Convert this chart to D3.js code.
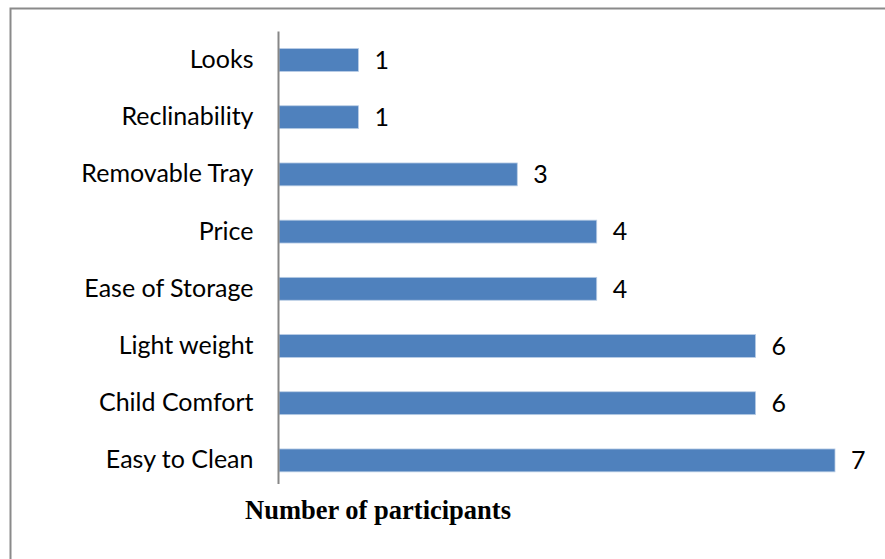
<!DOCTYPE html>
<html>
<head>
<meta charset="utf-8">
<script src="https://cdn.jsdelivr.net/npm/d3@7"></script>
<style>
  html, body { margin: 0; padding: 0; background: #fff; }
  svg { display: block; }
</style>
</head>
<body>
<svg id="chart" width="885" height="559"></svg>
<script>
// Reasons given for choosing a stroller, with participant counts
const categories = ["Looks", "Reclinability", "Removable Tray", "Price",
                    "Ease of Storage", "Light weight", "Child Comfort", "Easy to Clean"];
const participants = [1, 1, 3, 4, 4, 6, 6, 7];
const axisTitle = "Number of participants";

const svg = d3.select("#chart");

// Chart frame (continues past the right and bottom edges of the page)
svg.append("rect")
  .attr("x", 10.5).attr("y", 8.5)
  .attr("width", 900).attr("height", 600)
  .attr("fill", "#fff")
  .attr("stroke", "#8a8a8a")
  .attr("stroke-width", 2);

const x = d3.scaleLinear().domain([0, 7]).range([279, 835]);
const y = d3.scaleBand().domain(categories).range([31.4, 489]).paddingInner(0.6).paddingOuter(0.3);

const labelFont = "Lato, 'Open Sans', sans-serif";

// Bars
svg.append("g").selectAll("rect")
  .data(categories)
  .join("rect")
  .attr("x", x(0))
  .attr("y", d => y(d))
  .attr("width", (d, i) => x(participants[i]) - x(0))
  .attr("height", y.bandwidth())
  .attr("fill", "#4f81bd")
  .attr("stroke", "#b9cde5")
  .attr("stroke-width", 0.8);

// Category axis
const yAxis = svg.append("g")
  .attr("transform", `translate(${x(0) - 0.5},0)`)
  .call(d3.axisLeft(y).tickSize(0).tickPadding(25));
yAxis.select(".domain")
  .attr("d", `M0,${y.range()[0]}V484`)
  .attr("stroke", "#878787")
  .attr("stroke-width", 2);
yAxis.selectAll("text")
  .attr("font-family", labelFont)
  .attr("font-size", 25)
  .attr("fill", "#000");

// Value labels
svg.append("g").selectAll("text")
  .data(categories)
  .join("text")
  .attr("x", (d, i) => x(participants[i]) + 16)
  .attr("y", d => y(d) + y.bandwidth() / 2)
  .attr("dy", "0.35em")
  .attr("font-family", labelFont)
  .attr("font-size", 25)
  .attr("fill", "#000")
  .text((d, i) => participants[i]);

// Axis title
svg.append("text")
  .attr("x", 378)
  .attr("y", 519)
  .attr("text-anchor", "middle")
  .attr("font-family", "'Liberation Serif', 'Times New Roman', serif")
  .attr("font-weight", "bold")
  .attr("font-size", 26.5)
  .attr("fill", "#000")
  .text(axisTitle);
</script>
</body>
</html>
